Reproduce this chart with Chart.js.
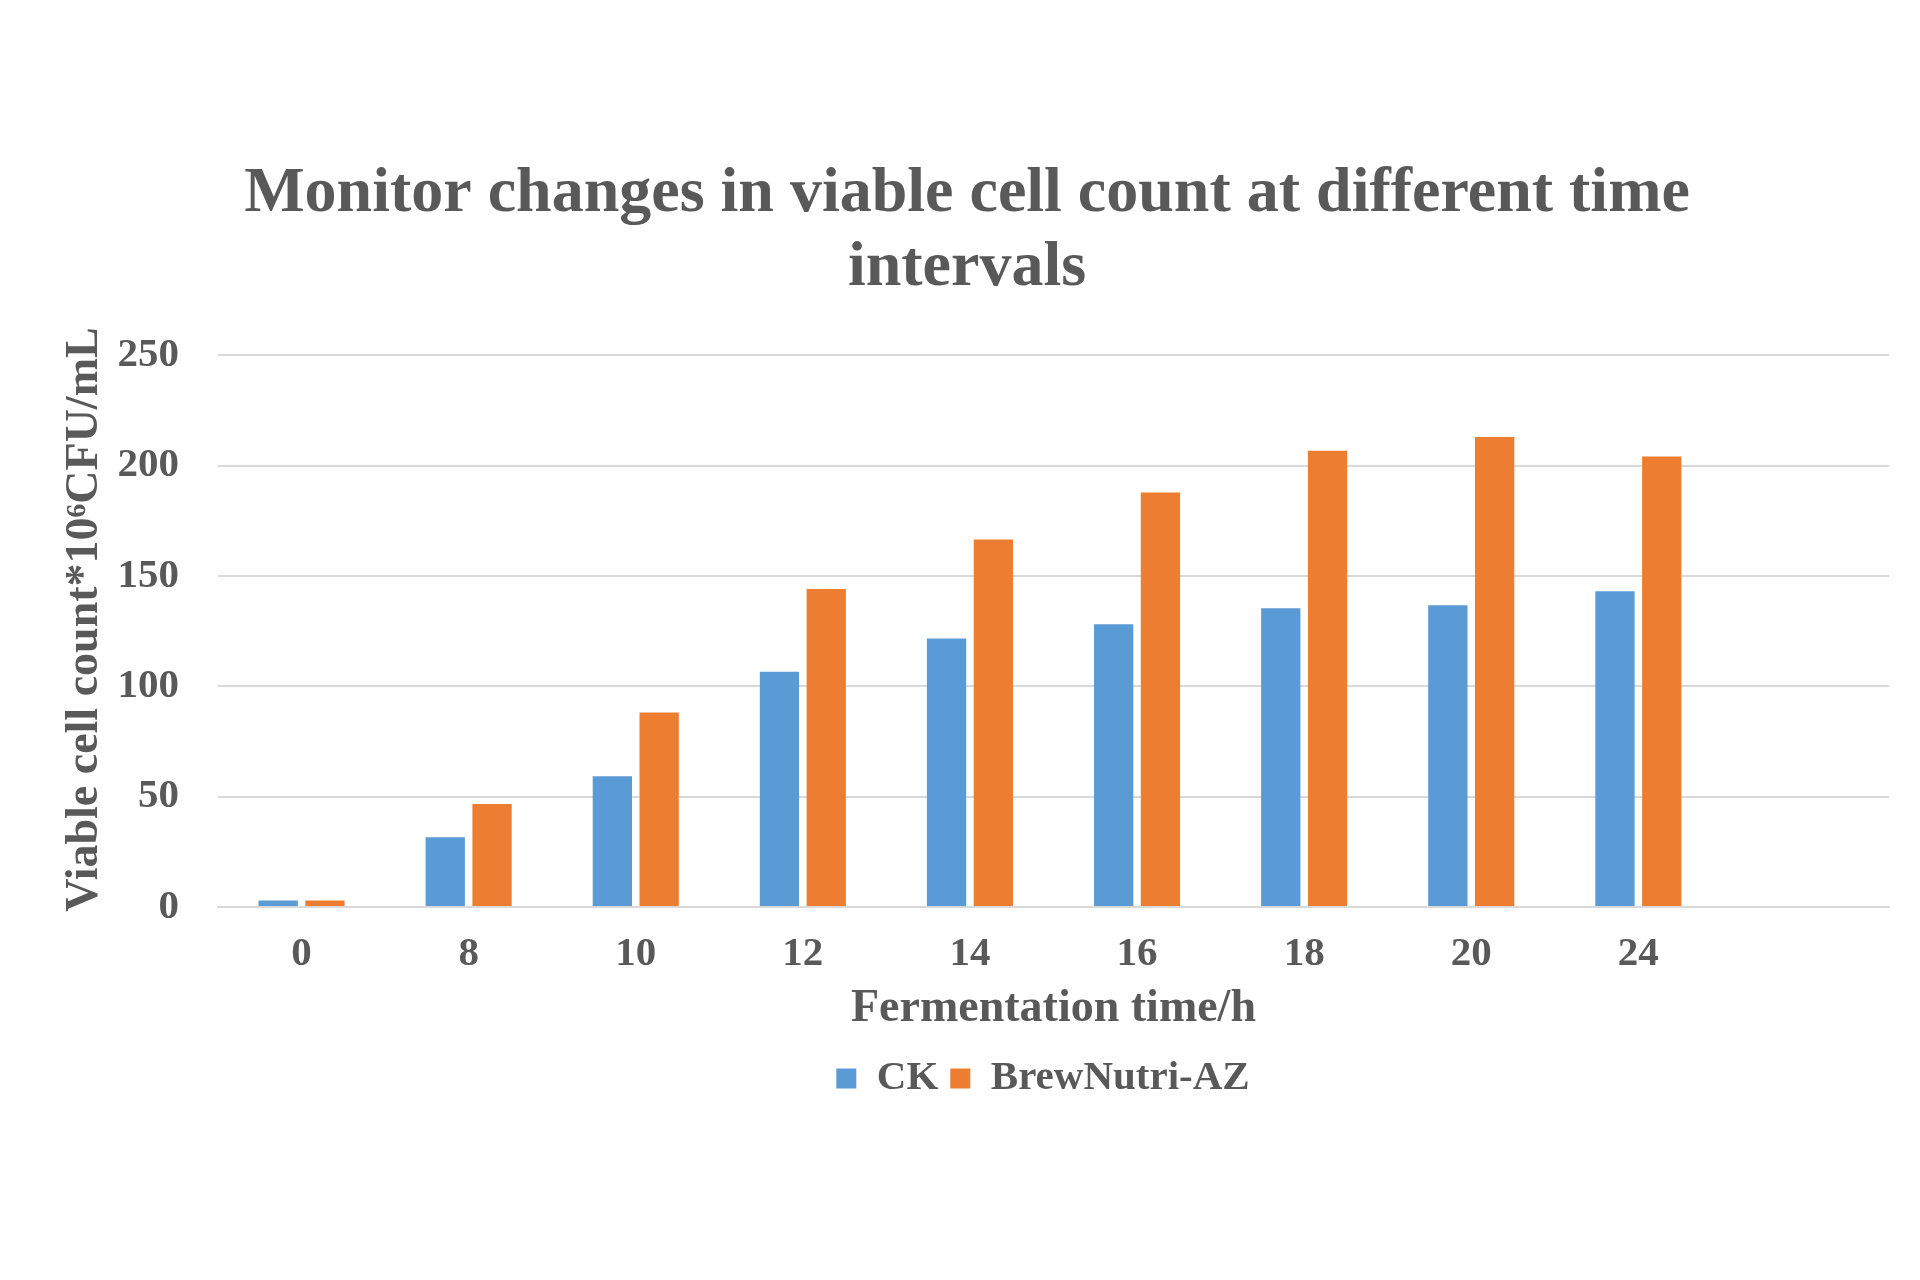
<!DOCTYPE html>
<html>
<head>
<meta charset="utf-8">
<title>Viable cell count</title>
<script src="https://cdn.jsdelivr.net/npm/chart.js@4/dist/chart.umd.min.js"></script>
<style>
  html, body { margin: 0; padding: 0; background: #fff; }
  #wrap { width: 1920px; height: 1280px; }
</style>
</head>
<body>
<div id="wrap"><canvas id="chart"></canvas></div>
<script>
// fermentation time (h); the last slot is empty in the original chart
const timeLabels = ["0", "8", "10", "12", "14", "16", "18", "20", "24", ""];
const ckValues = [3, 31.6, 59.2, 106.6, 121.6, 128.1, 135.3, 136.7, 143.0];
const brewValues = [2.9, 46.7, 88.1, 144.1, 166.5, 187.8, 206.7, 212.9, 204.1];
const yTicks = [0, 50, 100, 150, 200, 250];

const serif = '"Liberation Serif", "Times New Roman", serif';
const textColor = "#595959";
const gridColor = "#d9d9d9";

// Excel puts the legend a bit right of the title centre
const legendShift = {
  id: "legendShift",
  afterLayout(chart) {
    chart.legend.left += 76;
    chart.legend.right += 76;
  }
};

const config = {
  type: "bar",
  data: {
    labels: timeLabels,
    datasets: [
      { label: "CK", data: ckValues, backgroundColor: "#5B9BD5" },
      { label: "BrewNutri-AZ", data: brewValues, backgroundColor: "#ED7D31" }
    ]
  },
  options: {
    responsive: true,
    maintainAspectRatio: false,
    devicePixelRatio: 1,
    animation: false,
    categoryPercentage: 0.56,
    barPercentage: 0.84,
    layout: { padding: { left: 45, right: 31, top: 0, bottom: 171 } },
    plugins: {
      title: {
        display: true,
        text: ["Monitor changes in viable cell count at different time", "intervals"],
        color: textColor,
        font: { family: serif, size: 64, weight: "bold", lineHeight: 1.15 },
        padding: { top: 158, bottom: 50 }
      },
      legend: {
        position: "bottom",
        labels: {
          color: textColor,
          font: { family: serif, size: 41, weight: "bold" },
          boxWidth: 20,
          boxHeight: 20,
          padding: 12
        }
      },
      tooltip: { enabled: false }
    },
    scales: {
      x: {
        afterFit(scale) { scale.height = 139; },
        grid: { display: false, drawTicks: false },
        border: { color: gridColor, width: 2 },
        ticks: {
          color: textColor,
          font: { family: serif, size: 41, weight: "bold" },
          padding: 23
        },
        title: {
          display: true,
          text: "Fermentation time/h",
          color: textColor,
          font: { family: serif, size: 46, weight: "bold" },
          padding: { top: 0, bottom: 9 }
        }
      },
      y: {
        min: 0,
        max: 250,
        afterBuildTicks(scale) {
          scale.ticks = yTicks.map(v => ({ value: v }));
        },
        afterFit(scale) { scale.width = 173; },
        grid: { color: gridColor, lineWidth: 2, drawTicks: false },
        border: { display: false },
        ticks: {
          color: textColor,
          font: { family: serif, size: 41, weight: "bold" },
          padding: 39
        },
        title: {
          display: true,
          // leading en space nudges the centred title slightly upward, as in the original
          text: "\u2002Viable cell count*10\u2076CFU/mL",
          color: textColor,
          font: { family: serif, size: 46, weight: "bold" },
          padding: { top: 13, bottom: 0 }
        }
      }
    }
  },
  plugins: [legendShift]
};

new Chart(document.getElementById("chart"), config);
</script>
</body>
</html>
